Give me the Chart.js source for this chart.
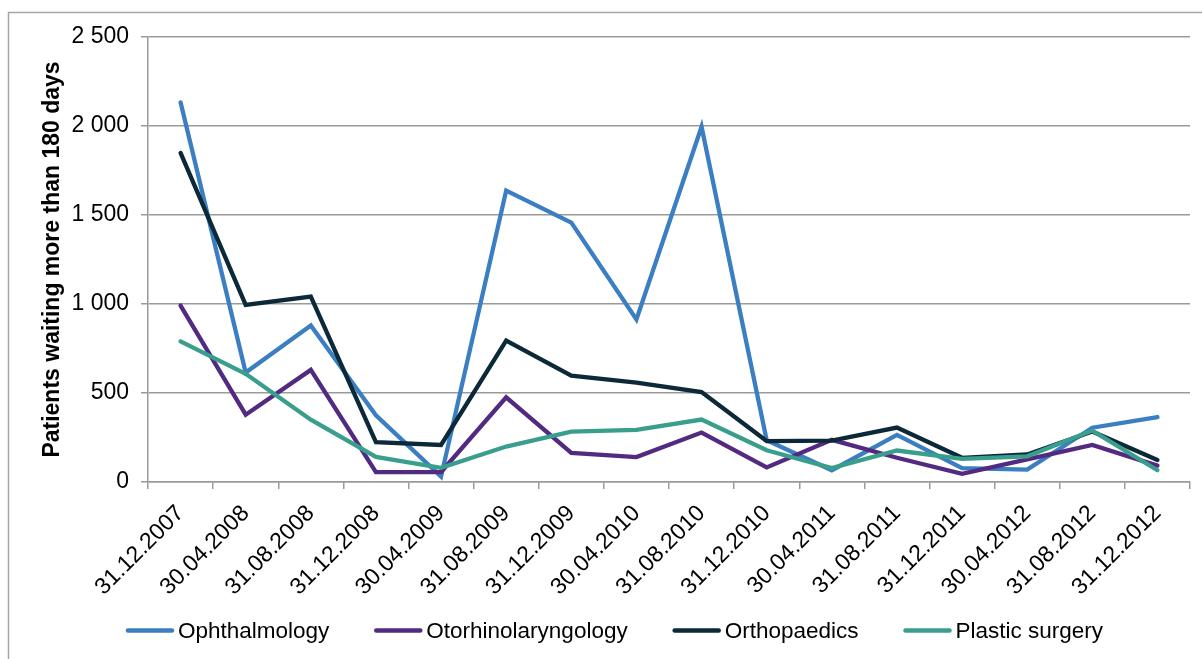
<!DOCTYPE html>
<html><head><meta charset="utf-8">
<script src="https://cdn.jsdelivr.net/npm/chart.js@4.4.1/dist/chart.umd.min.js"></script>
<style>html,body{margin:0;padding:0;background:#fff;overflow:hidden}canvas{display:block}</style>
</head><body>
<canvas id="c" width="1202" height="659"></canvas>
<script>
const categories = ['31.12.2007','30.04.2008','31.08.2008','31.12.2008','30.04.2009','31.08.2009','31.12.2009','30.04.2010','31.08.2010','31.12.2010','30.04.2011','31.08.2011','31.12.2011','30.04.2012','31.08.2012','31.12.2012'];
const ophthalmology = [2133, 615, 879, 375, 30, 1637, 1457, 913, 1996, 235, 66, 265, 78, 70, 305, 365];
const otorhinolaryngology = [991, 378, 630, 55, 56, 476, 164, 140, 278, 82, 237, 136, 46, 127, 208, 92];
const orthopaedics = [1849, 995, 1042, 224, 208, 795, 597, 558, 505, 230, 232, 306, 136, 155, 284, 124];
const plasticSurgery = [790, 608, 350, 141, 80, 199, 283, 293, 351, 178, 78, 177, 130, 144, 289, 66];
const yTicks = [0, 500, 1000, 1500, 2000, 2500];
const yTitle = 'Patients waiting more than 180 days';

const FONT = '"Liberation Sans", Arial, sans-serif';
const GRID = '#9a9a9a';

const legendPlugin = {
  id: 'customLegend',
  afterDraw(chart) {
    const ctx = chart.ctx;
    ctx.save();
    ctx.font = '22.5px ' + FONT;
    const items = chart.data.datasets.map(ds => ({label: ds.label, color: ds.borderColor, w: ctx.measureText(ds.label).width}));
    const lineW = 48, gapText = 4, gapItem = 45;
    const total = items.reduce((s, it) => s + lineW + gapText + it.w, 0) + gapItem * (items.length - 1);
    let x = 614.5 - total / 2;
    const y = 630.5;
    items.forEach(it => {
      ctx.strokeStyle = it.color; ctx.lineWidth = 4.5; ctx.lineCap = 'round';
      ctx.beginPath(); ctx.moveTo(x + 2, y); ctx.lineTo(x + lineW - 2, y); ctx.stroke();
      ctx.fillStyle = '#000'; ctx.textBaseline = 'middle'; ctx.textAlign = 'left';
      ctx.fillText(it.label, x + lineW + gapText, y + 1);
      x += lineW + gapText + it.w + gapItem;
    });
    ctx.strokeStyle = '#a6a6a6'; ctx.lineWidth = 1.5; ctx.lineCap = 'butt';
    ctx.beginPath(); ctx.moveTo(8.5, 659); ctx.lineTo(8.5, 12.5); ctx.lineTo(1202, 12.5); ctx.stroke();
    ctx.restore();
  }
};

function ds(label, data, color, order) {
  return {label, data, borderColor: color, backgroundColor: color, borderWidth: 4.3,
    pointRadius: 0, pointHoverRadius: 0, tension: 0, fill: false, order,
    borderCapStyle: 'round', borderJoinStyle: 'miter'};
}

new Chart(document.getElementById('c'), {
  type: 'line',
  data: {
    labels: categories,
    datasets: [
      ds('Ophthalmology', ophthalmology, '#3b7fc2', 4),
      ds('Otorhinolaryngology', otorhinolaryngology, '#532a81', 3),
      ds('Orthopaedics', orthopaedics, '#0c2939', 2),
      ds('Plastic surgery', plasticSurgery, '#3a9e8d', 1)
    ]
  },
  options: {
    responsive: false,
    animation: false,
    devicePixelRatio: 1,
    layout: {padding: {left: 0, top: 37, right: 12, bottom: 0}},
    plugins: {legend: {display: false}, tooltip: {enabled: false}},
    scales: {
      x: {
        offset: true,
        grid: {offset: true, drawOnChartArea: false, drawTicks: true, tickLength: 7, color: GRID, lineWidth: 1.5},
        border: {display: true, color: GRID, width: 1.5},
        ticks: {color: '#000', font: {family: FONT, size: 23}, minRotation: 45, maxRotation: 45, padding: 11, autoSkip: false},
        afterFit(s) { s.height = 177; }
      },
      y: {
        min: 0, max: 2500,
        afterBuildTicks(s) { s.ticks = yTicks.map(v => ({value: v})); },
        grid: {color: GRID, lineWidth: 1.5, tickLength: 7, drawTicks: true},
        border: {display: true, color: GRID, width: 1.5},
        ticks: {color: '#000', font: {family: FONT, size: 23}, padding: 12,
          callback: v => String(v).replace(/\B(?=(\d{3})+(?!\d))/g, ' ')},
        title: {display: true, text: yTitle, color: '#000', font: {family: FONT, size: 23, weight: 'bold'}, padding: {top: 39, bottom: 0}},
        afterFit(s) { s.width = 148; }
      }
    }
  },
  plugins: [legendPlugin]
});
</script>
</body></html>
